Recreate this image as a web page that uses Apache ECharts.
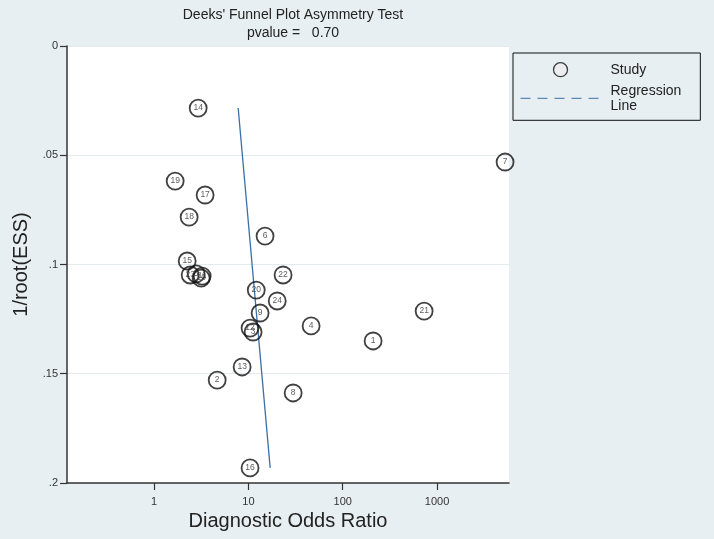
<!DOCTYPE html>
<html>
<head>
<meta charset="utf-8">
<script src="https://cdn.jsdelivr.net/npm/echarts@6/dist/echarts.min.js"></script>
<style>
  html, body { margin: 0; padding: 0; background: #fff; }
  #chart { width: 714px; height: 539px; }
</style>
</head>
<body>
<div id="chart"></div>
<script>
// study numbers, diagnostic odds ratio (log axis) and 1/root(ESS)
const studyIds = ['1', '2', '3', '4', '5', '6', '7', '8', '9', '10', '11', '12', '13',
                  '14', '15', '16', '17', '18', '19', '20', '21', '22', '23', '24', '25'];
const dorValues = [210, 4.66, 11.2, 46.2, 2.79, 15.0, 5270, 29.8, 13.3, 3.15, 3.23, 10.4, 8.57,
                   2.93, 2.24, 10.4, 3.47, 2.35, 1.67, 12.1, 730, 23.3, 2.41, 20.2, 0.116];
const essValues = [0.1350, 0.1529, 0.1309, 0.1281, 0.1043, 0.0870, 0.0531, 0.1588, 0.1222, 0.1062,
                   0.1053, 0.1291, 0.1469, 0.0284, 0.0984, 0.1931, 0.0682, 0.0783, 0.0618, 0.1117,
                   0.1213, 0.1048, 0.1048, 0.1167, 0.1588];

// regression line end points
const regX = [7.78, 17.0];
const regY = [0.0284, 0.1931];

const xTicks = [1, 10, 100, 1000];
const yTicks = [0, 0.05, 0.1, 0.15, 0.2];

const FONT = 'Liberation Sans';
const bg = '#e8eff2';
const blue = '#3b6fa8';

const chart = echarts.init(document.getElementById('chart'));

const studyData = studyIds.map((id, i) => [dorValues[i], essValues[i], id]);
const regData = regX.map((x, i) => [x, regY[i]]);

const option = {
  backgroundColor: bg,
  textStyle: { fontFamily: FONT },
  title: {
    text: "Deeks' Funnel Plot Asymmetry Test",
    subtext: 'pvalue =   0.70',
    left: 288,
    top: 3,
    textAlign: 'center',
    itemGap: 4,
    textStyle: { fontFamily: FONT, fontSize: 14, fontWeight: 'normal', color: '#222' },
    subtextStyle: { fontFamily: FONT, fontSize: 14, color: '#222' }
  },
  legend: {
    orient: 'vertical',
    left: 513,
    top: 53,
    padding: [9, 19, 7, 7],
    itemGap: 6,
    itemWidth: 80,
    itemHeight: 14,
    borderColor: '#111',
    borderWidth: 1,
    backgroundColor: bg,
    textStyle: { fontFamily: FONT, fontSize: 14, color: '#222', lineHeight: 15, padding: [0, 0, 0, 5] },
    formatter: (name) => name === 'Regression' ? 'Regression\nLine' : name,
    data: [
      { name: 'Study', icon: 'circle', itemStyle: { color: '#ececec', borderColor: '#111', borderWidth: 1.3 } },
      { name: 'Regression', itemStyle: { opacity: 0 }, lineStyle: { type: [10, 7], color: blue, width: 1 } }
    ]
  },
  grid: {
    left: 67,
    right: 205,
    top: 46,
    bottom: 56,
    show: true,
    backgroundColor: '#ffffff',
    borderWidth: 0
  },
  xAxis: {
    type: 'log',
    logBase: 10,
    min: 0.119,
    max: 5800,
    name: 'Diagnostic Odds Ratio',
    nameLocation: 'middle',
    nameGap: 27,
    nameTextStyle: { fontFamily: FONT, fontSize: 20, color: '#222' },
    axisLine: { onZero: false, lineStyle: { color: '#333', width: 1.5 } },
    axisTick: { show: true, length: 7, customValues: xTicks, lineStyle: { color: '#333', width: 1.2 } },
    axisLabel: { customValues: xTicks, fontSize: 11, color: '#333', margin: 13, formatter: (v) => String(v) },
    splitLine: { show: false },
    minorTick: { show: false }
  },
  yAxis: {
    type: 'value',
    inverse: true,
    min: 0,
    max: 0.2,
    interval: 0.05,
    name: '1/root(ESS)',
    nameLocation: 'middle',
    nameGap: 36,
    nameTextStyle: { fontFamily: FONT, fontSize: 20, color: '#222' },
    axisLine: { show: true, onZero: false, lineStyle: { color: '#333', width: 1.5 } },
    axisTick: { show: true, length: 7, lineStyle: { color: '#333', width: 1.2 } },
    axisLabel: {
      fontSize: 11,
      color: '#333',
      margin: 9,
      formatter: (v) => {
        const t = yTicks.find(k => Math.abs(k - v) < 1e-9);
        const s = String(+(t === undefined ? v : t).toFixed(2));
        return s.startsWith('0.') ? s.slice(1) : s;
      }
    },
    splitLine: { show: true, lineStyle: { color: '#e3ebef', width: 1.2 } }
  },
  series: [
    {
      name: 'Regression',
      type: 'line',
      data: regData,
      showSymbol: false,
      symbol: 'none',
      z: 2,
      itemStyle: { color: blue },
      lineStyle: { color: blue, width: 1.3 },
      silent: true
    },
    {
      name: 'Study',
      type: 'scatter',
      data: studyData,
      symbol: 'circle',
      symbolSize: 17,
      z: 3,
      itemStyle: { color: 'rgba(255,255,255,0)', borderColor: '#111', borderWidth: 1.8 },
      label: {
        show: true,
        position: 'inside',
        formatter: (p) => p.data[2],
        fontFamily: FONT,
        fontSize: 8.5,
        color: '#333'
      }
    }
  ]
};

chart.setOption(option);
</script>
</body>
</html>
